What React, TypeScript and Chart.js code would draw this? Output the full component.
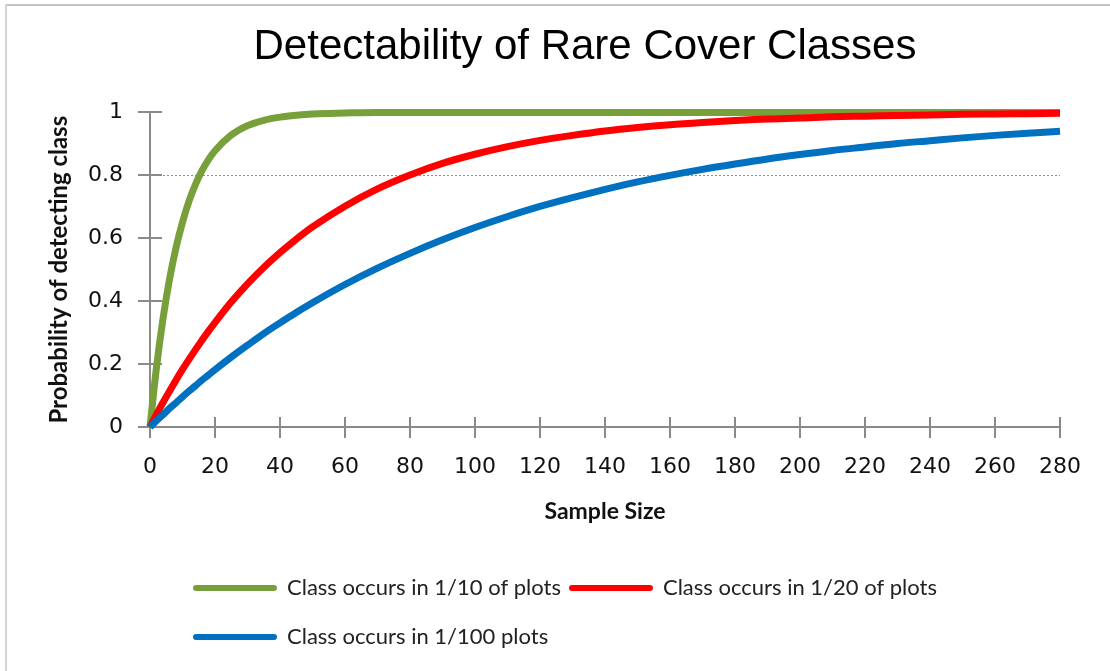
import React, { useEffect, useRef } from 'react';
import { Chart, registerables } from 'chart.js';

Chart.register(...registerables);

const chartTitle = 'Detectability of Rare Cover Classes';
const xAxisTitle = 'Sample Size';
const yAxisTitle = 'Probability of detecting class';

const sampleSizes = [0, 2, 4, 6, 8, 10, 12, 14, 16, 18, 20, 25, 30, 35, 40, 45, 50, 60, 70, 80, 90, 100, 110, 120, 130, 140, 150, 160, 170, 180, 190, 200, 210, 220, 230, 240, 250, 260, 270, 280];

const seriesLabels = ['Class occurs in 1/10 of plots', 'Class occurs in 1/20 of plots', 'Class occurs in 1/100 plots'];

const green10 = [0, 0.19, 0.344, 0.469, 0.57, 0.651, 0.718, 0.771, 0.815, 0.85, 0.878, 0.928, 0.958, 0.975, 0.985, 0.991, 0.995,
  0.998, 1, 1, 1, 1, 1, 1, 1, 1, 1, 1, 1, 1, 1, 1, 1, 1, 1, 1, 1, 1, 1, 1];
const red20 = [0, 0.04, 0.078, 0.114, 0.149, 0.183, 0.215, 0.246, 0.276, 0.305, 0.332, 0.397, 0.455, 0.507, 0.554, 0.597, 0.636,
  0.702, 0.757, 0.801, 0.838, 0.867, 0.891, 0.911, 0.927, 0.941, 0.952, 0.961, 0.968, 0.974, 0.979, 0.982, 0.986, 0.988, 0.99, 0.992, 0.994, 0.995, 0.996, 0.997];
const blue100 = [0, 0.02, 0.039, 0.059, 0.077, 0.096, 0.114, 0.131, 0.149, 0.165, 0.182, 0.222, 0.26, 0.297, 0.331, 0.364, 0.395,
  0.453, 0.505, 0.552, 0.595, 0.634, 0.669, 0.701, 0.729, 0.755, 0.779, 0.80, 0.819, 0.836, 0.852, 0.866, 0.879, 0.89, 0.901, 0.91, 0.919, 0.927, 0.934, 0.94];

const seriesColors = ['#77A03A', '#FF0000', '#0070C0'];

const AXIS_COLOR = '#8a8a8a';

const tickMarksPlugin = {
  id: 'crossTicks',
  beforeDatasetsDraw(chart: any) {
    const { ctx, chartArea, scales } = chart;
    const xs = scales.x;
    const ys = scales.y;
    ctx.save();
    ctx.strokeStyle = AXIS_COLOR;
    ctx.lineWidth = 2;
    ctx.setLineDash([]);
    ctx.beginPath();
    xs.ticks.forEach((t: any) => {
      const px = Math.round(xs.getPixelForValue(t.value));
      ctx.moveTo(px, chartArea.bottom - 10);
      ctx.lineTo(px, chartArea.bottom + 11);
    });
    ys.ticks.forEach((t: any) => {
      const py = Math.round(ys.getPixelForValue(t.value));
      ctx.moveTo(chartArea.left - 12, py);
      ctx.lineTo(chartArea.left + 12, py);
    });
    ctx.stroke();
    ctx.restore();
  },
};

const customLegendPlugin = {
  id: 'customLegend',
  afterDraw(chart: any) {
    const { ctx, chartArea } = chart;
    const ds = chart.data.datasets;
    const lineLen = 84;
    const startX = chartArea.left + 43;
    const rows = [[0, 1], [2]];
    const rowY = [chartArea.bottom + 161, chartArea.bottom + 210];
    ctx.save();
    ctx.font = '22px Lato';
    ctx.textBaseline = 'middle';
    ctx.textAlign = 'left';
    rows.forEach((row, r) => {
      let x = startX;
      const y = rowY[r];
      row.forEach((i) => {
        ctx.strokeStyle = ds[i].borderColor;
        ctx.lineWidth = 6;
        ctx.lineCap = 'round';
        ctx.beginPath();
        ctx.moveTo(x + 3, y);
        ctx.lineTo(x + lineLen - 3, y);
        ctx.stroke();
        x += lineLen + 10;
        ctx.fillStyle = '#222';
        ctx.fillText(ds[i].label, x, y);
        x += ctx.measureText(ds[i].label).width + 8;
      });
    });
    ctx.restore();
  },
};

export default function App() {
  const canvasRef = useRef<HTMLCanvasElement | null>(null);

  useEffect(() => {
    document.body.style.margin = '0';
    const canvas = canvasRef.current;
    if (!canvas) return;
    const seriesValues = [green10, red20, blue100];
    const drawOrder = [2, 1, 0];
    const chart = new Chart(canvas, {
      type: 'line',
      data: {
        datasets: seriesValues.map((vals, i) => ({
          label: seriesLabels[i],
          data: sampleSizes.map((s, j) => ({ x: s, y: vals[j] })),
          borderColor: seriesColors[i],
          backgroundColor: seriesColors[i],
          borderWidth: 7,
          pointRadius: 0,
          cubicInterpolationMode: 'monotone' as const,
          fill: false,
          clip: false,
          order: drawOrder[i],
        })),
      },
      options: {
        responsive: false,
        animation: false,
        layout: { padding: { left: 47, right: 0, top: 0, bottom: 134 } },
        plugins: {
          legend: { display: false },
          tooltip: { enabled: false },
          title: {
            display: true,
            text: chartTitle,
            color: '#000',
            font: { family: '"Liberation Sans", Arial, sans-serif', size: 42, weight: 'normal', lineHeight: 1.2 },
            padding: { top: 22, bottom: 40 },
          },
        },
        scales: {
          x: {
            type: 'linear',
            min: 0,
            max: 280,
            afterFit: (s: any) => { s.height = 110; },
            ticks: {
              stepSize: 20,
              color: '#111',
              font: { family: '"DejaVu Sans", sans-serif', size: 22 },
              padding: 27,
              maxRotation: 0,
            },
            grid: { display: false, drawTicks: false },
            border: { display: true, color: AXIS_COLOR, width: 2 },
            title: {
              display: true,
              text: xAxisTitle,
              color: '#111',
              font: { family: 'Lato, sans-serif', size: 23, weight: 'bold', lineHeight: 1.2 },
              padding: { top: 0, bottom: 12 },
            },
          },
          y: {
            type: 'linear',
            min: 0,
            max: 1,
            afterFit: (s: any) => { s.width = 103; },
            ticks: {
              stepSize: 0.2,
              color: '#111',
              font: { family: '"DejaVu Sans", sans-serif', size: 22 },
              padding: 27,
              callback: (v: any) => String(Number(Number(v).toFixed(1))),
            },
            grid: {
              display: true,
              drawTicks: false,
              lineWidth: 1,
              color: (c: any) => (c.tick && Math.abs(c.tick.value - 0.8) < 1e-6 ? '#8c8c8c' : 'rgba(0,0,0,0)'),
            },
            border: { display: true, color: AXIS_COLOR, width: 2, dash: [2, 2] },
            title: {
              display: true,
              text: yAxisTitle,
              color: '#111',
              font: { family: 'Lato, sans-serif', size: 24, weight: 'bold', lineHeight: 1.0 },
              padding: { top: 0, bottom: 0 },
            },
          },
          y2: {
            type: 'linear',
            position: 'right',
            display: true,
            afterFit: (s: any) => { s.width = 63; },
            ticks: { display: false },
            grid: { display: false, drawTicks: false },
            border: { display: false },
          },
        },
      } as any,
      plugins: [tickMarksPlugin, customLegendPlugin],
    });
    return () => chart.destroy();
  }, []);

  return (
    <div style={{ position: 'fixed', left: 0, top: 0, width: 1110, height: 671, overflow: 'hidden', background: '#fff' }}>
      <canvas ref={canvasRef} width={1123} height={671} style={{ display: 'block', width: 1123, height: 671 }} />
      <div style={{ position: 'absolute', left: 5, top: 4, width: 1105, height: 2, background: '#c4c4c4' }} />
      <div style={{ position: 'absolute', left: 5, top: 4, width: 2, height: 667, background: '#d2d2d2' }} />
    </div>
  );
}
